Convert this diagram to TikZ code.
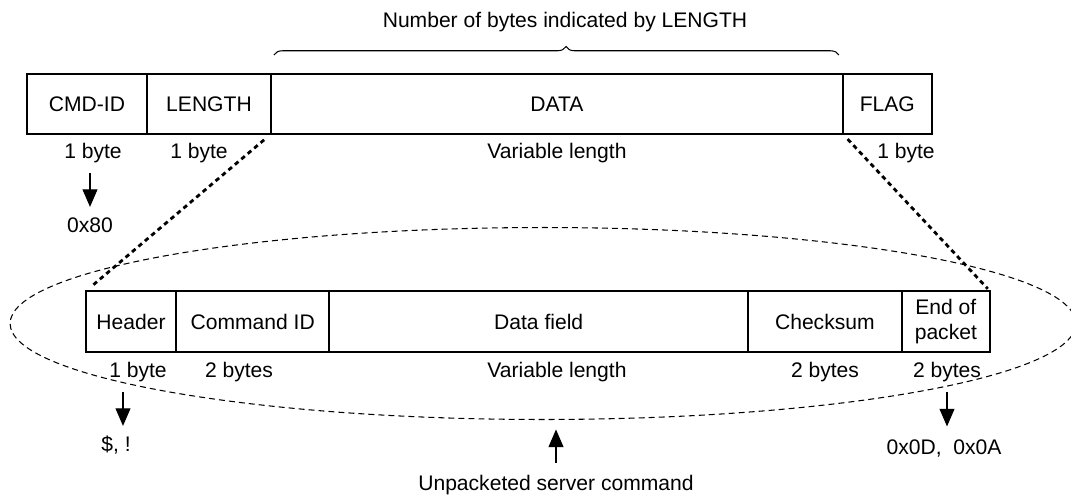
\documentclass[tikz,border=0pt]{standalone}
\usepackage{fontspec}
\setmainfont{Liberation Sans}
\usetikzlibrary{calc,
	positioning,
	shapes.geometric,
	arrows.meta,
	decorations.pathreplacing}
\tikzstyle{fld}=[draw, line width=1.1pt, inner sep=0, outer sep=0, minimum height=1.2cm, align=center, font=\fontsize{12}{14}\selectfont]
\tikzstyle{lbl}=[inner sep=0, text height=8.6pt, text depth=2.5pt, font=\fontsize{12}{14}\selectfont]
\tikzstyle{arr}=[line width=0.6pt, -{Triangle[length=10pt, width=8.5pt]}, shorten <=0.2cm, shorten >=0.2cm]
\tikzstyle{zoomln}=[line width=1.6pt, dash pattern=on 2.6pt off 2.2pt]
\tikzstyle{outl}=[draw, ellipse, line width=0.6pt, inner sep=0, outer sep=0, dash pattern=on 3.4pt off 2.3pt]

\begin{document}
\begin{tikzpicture}[x=0.02cm, y=-0.02cm]
            \useasboundingbox (0,0) rectangle (1071,494);
            % packet sent to the unit
            \node[fld, minimum width=2.4cm] (cmd) at (87,104) {CMD-ID};
            \node[fld, minimum width=2.48cm, right=0pt of cmd] (len) {LENGTH};
            \node[fld, minimum width=11.44cm, right=0pt of len] (data) {DATA};
            \node[fld, minimum width=1.78cm, right=0pt of data] (flag) {FLAG};
            \coordinate (brl) at ($(data.north west)+(3,-19)$);
            \coordinate (brr) at ($(data.north east)+(-4,-19)$);
            \draw[decorate, decoration={brace, amplitude=0.17cm, aspect=0.517}, line width=0.6pt] (brl) -- (brr);
            \node[lbl] (nbytes) at (565,22) {Number of bytes indicated by LENGTH};
            \node[lbl] (cmdsz) at (93,153) {1 byte};
            \node[lbl] (lensz) at (199,153) {1 byte};
            \node[lbl] (datasz) at (557,153) {Variable length};
            \node[lbl] (flagsz) at (906,153) {1 byte};
            \node[lbl] (cmdval) at (90,227) {0x80};
            \draw[arr] (cmdval |- cmdsz.south) -- (cmdval.north);
            % unpacketed server command
            \node[outl, minimum width=21.32cm, minimum height=3.84cm] (unpk) at (543,323.5) {};
            \node[fld, minimum width=1.8cm, minimum height=1.22cm] (hdr) at (131,321.5) {Header};
            \node[fld, minimum width=3.07cm, minimum height=1.22cm, right=0pt of hdr] (cid) {Command ID};
            \node[fld, minimum width=8.37cm, minimum height=1.22cm, right=0pt of cid] (dfield) {Data field};
            \node[fld, minimum width=3.08cm, minimum height=1.22cm, right=0pt of dfield] (csum) {Checksum};
            \node[fld, minimum width=1.76cm, minimum height=1.22cm, right=0pt of csum] (eop) {End of\\packet};
            \node[lbl] (hdrsz) at (138,372) {1 byte};
            \node[lbl] (cidsz) at (239,372) {2 bytes};
            \node[lbl] (dfsz) at (557,372) {Variable length};
            \node[lbl] (cssz) at (825,372) {2 bytes};
            \node[lbl] (eopsz) at (947,372) {2 bytes};
            \node[lbl] (hdrval) at (116,446) {\$, !};
            \node[lbl] (eopval) at (944,449) {0x0D,\ \ 0x0A};
            \node[lbl] (ucmd) at (556,485) {Unpacketed server command};
            \draw[arr] ([xshift=0.14cm]hdrval.north |- hdrsz.south) -- ([xshift=0.14cm]hdrval.north);
            \draw[arr, shorten >=0.25cm] (eopsz.south) -- (eopsz.south |- eopval.north);
            \draw[arr, shorten <=0.24cm] (ucmd.north) -- (ucmd.north |- unpk.south);
            \draw[zoomln, shorten <=0.18cm, shorten >=0.16cm] (len.south east) -- (hdr.north west);
            \draw[zoomln, shorten <=0.14cm, shorten >=0.06cm] (flag.south west) -- (eop.north east);
        \end{tikzpicture}
\end{document}
